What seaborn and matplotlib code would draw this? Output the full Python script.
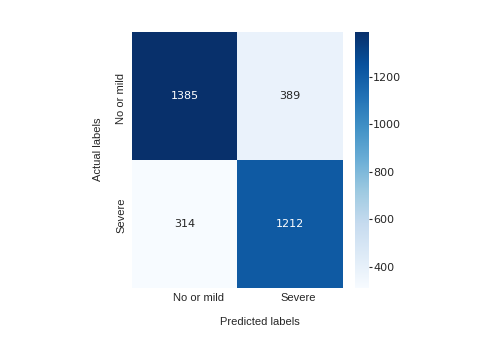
import numpy as np
import matplotlib
matplotlib.use("Agg")
import matplotlib.pyplot as plt
import matplotlib.transforms as mtransforms
import seaborn as sns

# confusion matrix values (rows = actual, cols = predicted)
class_names = ["No or mild", "Severe"]
row_no_mild = [1385, 389]
row_severe = [314, 1212]

cm = np.array([row_no_mild, row_severe])

sns.set_theme(style="white")
plt.rcParams["font.family"] = ["Liberation Sans", "DejaVu Sans"]
plt.rcParams["text.color"] = "#262626"
plt.rcParams["axes.labelcolor"] = "#262626"
plt.rcParams["xtick.color"] = "#262626"
plt.rcParams["ytick.color"] = "#262626"

fig = plt.figure(figsize=(5, 3.42), dpi=100)
ax = fig.add_axes([0.264, 0.159, 0.421, 0.746])
cax = fig.add_axes([0.710, 0.159, 0.028, 0.746])

sns.heatmap(cm, annot=True, fmt="d", cmap="Blues", ax=ax, cbar_ax=cax,
            xticklabels=class_names, yticklabels=class_names,
            annot_kws={"fontsize": 8, "family": "DejaVu Sans"})

ax.set_xlabel("Predicted labels", fontsize=8, labelpad=10)
ax.set_ylabel("Actual labels", fontsize=8, labelpad=10)
ax.tick_params(axis="both", labelsize=8, length=0, pad=4)
plt.setp(ax.get_yticklabels(), rotation=90, va="center")

cax.tick_params(labelsize=8, length=2, width=0.8, pad=1, colors="#262626")
for t in cax.get_yticklabels():
    t.set_family("DejaVu Sans")

# small nudges so the labels sit where they do in the source picture
def nudge(text, dx_px, dy_px):
    off = mtransforms.ScaledTranslation(dx_px / 100, -dy_px / 100, fig.dpi_scale_trans)
    text.set_transform(text.get_transform() + off)

xt = ax.get_xticklabels()
nudge(xt[0], 14, 0)
nudge(xt[1], 8, 0)
yt = ax.get_yticklabels()
nudge(yt[0], 0, 2)
nudge(yt[1], 0, -9)
nudge(ax.xaxis.label, 23, 0)
nudge(ax.yaxis.label, 0, -11)

fig.savefig("out.png", dpi=100)
